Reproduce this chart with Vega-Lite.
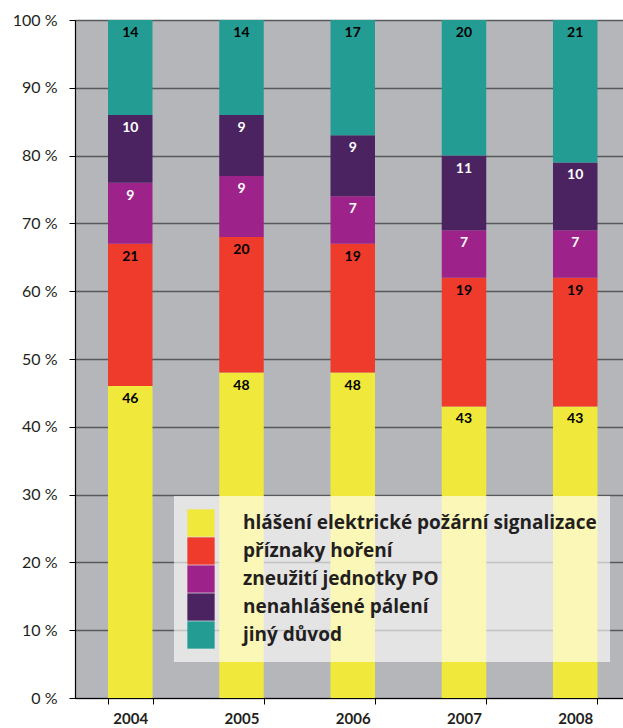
{
  "$schema": "https://vega.github.io/schema/vega-lite/v6.json",
  "width": 548,
  "height": 678,
  "autosize": {"type": "none"},
  "padding": {"left": 75, "top": 20, "right": 0, "bottom": 30},
  "background": "white",
  "config": {
    "view": {"fill": "#b5b6b9", "stroke": null},
    "font": "Lato"
  },
  "data": {
    "values": [
      {"year": "2004", "cat": "hlášení elektrické požární signalizace", "order": 1, "value": 46},
      {"year": "2004", "cat": "příznaky hoření", "order": 2, "value": 21},
      {"year": "2004", "cat": "zneužití jednotky PO", "order": 3, "value": 9},
      {"year": "2004", "cat": "nenahlášené pálení", "order": 4, "value": 10},
      {"year": "2004", "cat": "jiný důvod", "order": 5, "value": 14},
      {"year": "2005", "cat": "hlášení elektrické požární signalizace", "order": 1, "value": 48},
      {"year": "2005", "cat": "příznaky hoření", "order": 2, "value": 20},
      {"year": "2005", "cat": "zneužití jednotky PO", "order": 3, "value": 9},
      {"year": "2005", "cat": "nenahlášené pálení", "order": 4, "value": 9},
      {"year": "2005", "cat": "jiný důvod", "order": 5, "value": 14},
      {"year": "2006", "cat": "hlášení elektrické požární signalizace", "order": 1, "value": 48},
      {"year": "2006", "cat": "příznaky hoření", "order": 2, "value": 19},
      {"year": "2006", "cat": "zneužití jednotky PO", "order": 3, "value": 7},
      {"year": "2006", "cat": "nenahlášené pálení", "order": 4, "value": 9},
      {"year": "2006", "cat": "jiný důvod", "order": 5, "value": 17},
      {"year": "2007", "cat": "hlášení elektrické požární signalizace", "order": 1, "value": 43},
      {"year": "2007", "cat": "příznaky hoření", "order": 2, "value": 19},
      {"year": "2007", "cat": "zneužití jednotky PO", "order": 3, "value": 7},
      {"year": "2007", "cat": "nenahlášené pálení", "order": 4, "value": 11},
      {"year": "2007", "cat": "jiný důvod", "order": 5, "value": 20},
      {"year": "2008", "cat": "hlášení elektrické požární signalizace", "order": 1, "value": 43},
      {"year": "2008", "cat": "příznaky hoření", "order": 2, "value": 19},
      {"year": "2008", "cat": "zneužití jednotky PO", "order": 3, "value": 7},
      {"year": "2008", "cat": "nenahlášené pálení", "order": 4, "value": 10},
      {"year": "2008", "cat": "jiný důvod", "order": 5, "value": 21}
    ]
  },
  "transform": [
    {"stack": "value", "groupby": ["year"], "sort": [{"field": "order", "order": "ascending"}], "as": ["v0", "v1"]}
  ],
  "encoding": {
    "x": {
      "field": "year", "type": "nominal",
      "scale": {"paddingInner": 0.6, "paddingOuter": 0.263, "align": 0.564},
      "axis": {
        "title": null, "labelAngle": 0, "tickBand": "extent",
        "domainColor": "#000", "tickColor": "#000", "tickSize": 6, "domainWidth": 1.2,
        "labelFontSize": 15, "labelFontWeight": "bold", "labelColor": "#231f20", "labelPadding": 7
      }
    },
    "y": {
      "field": "v1", "type": "quantitative",
      "scale": {"domain": [0, 100], "nice": false},
      "axis": {
        "title": null, "values": [0, 10, 20, 30, 40, 50, 60, 70, 80, 90, 100],
        "labelExpr": "datum.value + ' %'",
        "domainColor": "#000", "tickColor": "#000", "tickSize": 6, "domainWidth": 1.2,
        "labelFontSize": 16, "labelColor": "#231f20", "labelPadding": 12,
        "gridColor": "#58595b", "gridWidth": 1.3, "gridOpacity": 1
      }
    }
  },
  "layer": [
    {
      "mark": {"type": "bar"},
      "encoding": {
        "y2": {"field": "v0"},
        "color": {
          "field": "cat", "type": "nominal",
          "scale": {
            "domain": ["hlášení elektrické požární signalizace", "příznaky hoření", "zneužití jednotky PO", "nenahlášené pálení", "jiný důvod"],
            "range": ["#f0e93c", "#ee3b2b", "#9d228a", "#4a2360", "#239c94"]
          },
          "legend": {
            "title": null, "orient": "none", "legendX": 99, "legendY": 476,
            "fillColor": "rgba(255,255,255,0.63)", "padding": 13,
            "symbolType": "square", "symbolSize": 745, "symbolOpacity": 1, "symbolStrokeWidth": 0,
            "rowPadding": 0, "labelOffset": 28, "labelFontSize": 19, "labelFont": "Open Sans", "labelFontWeight": 700,
            "labelColor": "#231f20", "labelLimit": 500
          }
        }
      }
    },
    {
      "mark": {"type": "text", "dy": 13, "baseline": "middle", "fontSize": 14, "fontWeight": "bold"},
      "encoding": {
        "text": {"field": "value", "type": "quantitative"},
        "color": {
          "condition": {"test": "datum.order === 3 || datum.order === 4", "value": "white"},
          "value": "black"
        }
      }
    }
  ]
}
